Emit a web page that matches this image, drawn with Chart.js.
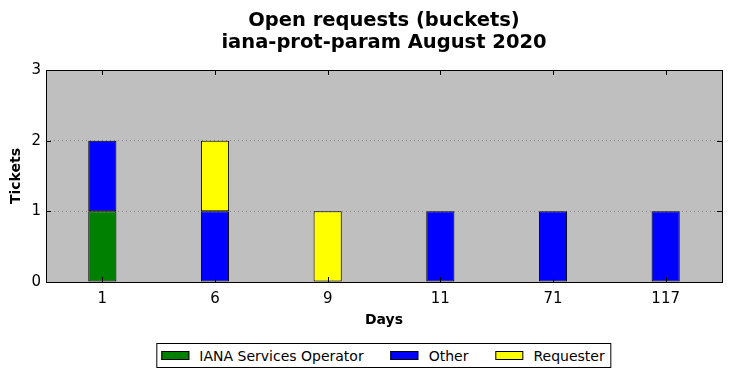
<!DOCTYPE html>
<html>
<head>
<meta charset="utf-8">
<script src="https://cdn.jsdelivr.net/npm/chart.js@4"></script>
<style>
  body { margin: 0; background: #fff; }
  #wrap { position: relative; width: 731px; height: 378px; }
  #legend {
    position: absolute; top: 343px; left: 384px; transform: translateX(-50%);
    height: 23px; border: 1px solid #000; background: #fff;
    display: flex; align-items: center; padding: 0 6px 0 4px;
    font: 14px 'DejaVu Sans'; white-space: nowrap;
  }
  #legend .item { display: flex; align-items: center; margin-right: 27px; }
  #legend .item:last-child { margin-right: 0; }
  #legend .sw { width: 26px; height: 7px; border: 1px solid #000; margin-right: 10px; }
</style>
</head>
<body>
<div id="wrap">
  <canvas id="myChart" width="731" height="378"></canvas>
  <div id="legend"></div>
</div>
<script>
  // values
  const days = ['1', '6', '9', '11', '71', '117'];
  const ianaOps = [1, 0, 0, 0, 0, 0];
  const other = [1, 1, 0, 1, 1, 1];
  const requester = [0, 1, 1, 0, 0, 0];
  const yTicks = [0, 1, 2, 3];

  const FONT = 'DejaVu Sans';

  // grey plot background, black frame and inward ticks (matplotlib classic look)
  const framePlugin = {
    id: 'frame',
    beforeDraw(chart) {
      const a = chart.chartArea;
      const ctx = chart.ctx;
      ctx.save();
      ctx.fillStyle = '#bfbfbf';
      ctx.fillRect(a.left, a.top, a.right - a.left, a.bottom - a.top);
      ctx.restore();
    },
    afterDraw(chart) {
      const a = chart.chartArea;
      const ctx = chart.ctx;
      const len = 5;
      ctx.save();
      ctx.strokeStyle = '#000';
      ctx.lineWidth = 1;
      ctx.beginPath();
      chart.scales.x.ticks.forEach((t, i) => {
        const px = Math.round(chart.scales.x.getPixelForTick(i)) + 0.5;
        ctx.moveTo(px, a.top); ctx.lineTo(px, a.top + len);
        ctx.moveTo(px, a.bottom); ctx.lineTo(px, a.bottom - len);
      });
      chart.scales.y.ticks.forEach((t, i) => {
        const py = Math.round(chart.scales.y.getPixelForTick(i)) + 0.5;
        ctx.moveTo(a.left, py); ctx.lineTo(a.left + len, py);
        ctx.moveTo(a.right, py); ctx.lineTo(a.right - len, py);
      });
      ctx.stroke();
      ctx.strokeRect(Math.round(a.left) + 0.5, Math.round(a.top) + 0.5,
        Math.round(a.right - a.left), Math.round(a.bottom - a.top));
      ctx.restore();
    }
  };

  // boxed legend below the chart, built from the datasets
  const htmlLegend = {
    id: 'htmlLegend',
    afterUpdate(chart) {
      const box = document.getElementById('legend');
      box.innerHTML = '';
      chart.data.datasets.forEach(ds => {
        const item = document.createElement('div');
        item.className = 'item';
        const sw = document.createElement('span');
        sw.className = 'sw';
        sw.style.background = ds.backgroundColor;
        item.appendChild(sw);
        item.appendChild(document.createTextNode(ds.label));
        box.appendChild(item);
      });
    }
  };

  const ctx = document.getElementById('myChart').getContext('2d');
  const myChart = new Chart(ctx, {
    type: 'bar',
    data: {
      labels: days,
      datasets: [
        { label: 'IANA Services Operator', data: ianaOps, backgroundColor: '#008000' },
        { label: 'Other', data: other, backgroundColor: '#0000ff' },
        { label: 'Requester', data: requester, backgroundColor: '#ffff00' }
      ].map(ds => Object.assign(ds, {
        borderColor: '#000', borderWidth: 1, borderSkipped: false,
        barPercentage: 0.25, categoryPercentage: 1
      }))
    },
    plugins: [framePlugin, htmlLegend],
    options: {
      responsive: false,
      animation: false,
      layout: { padding: { left: 0, right: 9, top: 0, bottom: 49 } },
      plugins: {
        legend: { display: false },
        tooltip: { enabled: false },
        title: {
          display: true,
          fullSize: false, // centre the title over the plot area
          text: ['Open requests (buckets)', 'iana-prot-param August 2020'],
          color: '#000',
          font: { family: FONT, size: 19.5, weight: 'bold', lineHeight: '22px' },
          padding: { top: 10, bottom: 16 }
        }
      },
      scales: {
        x: {
          stacked: true,
          grid: { display: false },
          border: { display: false },
          ticks: { color: '#000', font: { family: FONT, size: 15 }, padding: 0 },
          title: {
            display: true, text: 'Days', color: '#000',
            font: { family: FONT, size: 14, weight: 'bold' },
            padding: { top: 0, bottom: 0 }
          },
          afterFit(scale) { scale.height = 47; }
        },
        y: {
          stacked: true,
          min: 0, max: 3,
          afterBuildTicks(scale) { scale.ticks = yTicks.map(v => ({ value: v })); },
          grid: { color: '#888', drawTicks: false, lineWidth: 1 },
          border: { display: false, dash: [1, 3] },
          ticks: { color: '#000', font: { family: FONT, size: 15 }, padding: 5 },
          title: {
            display: true, text: 'Tickets', color: '#000',
            font: { family: FONT, size: 14, weight: 'bold' },
            padding: { top: 8, bottom: 0 }
          },
          afterFit(scale) { scale.width = 46; }
        }
      }
    }
  });
</script>
</body>
</html>
